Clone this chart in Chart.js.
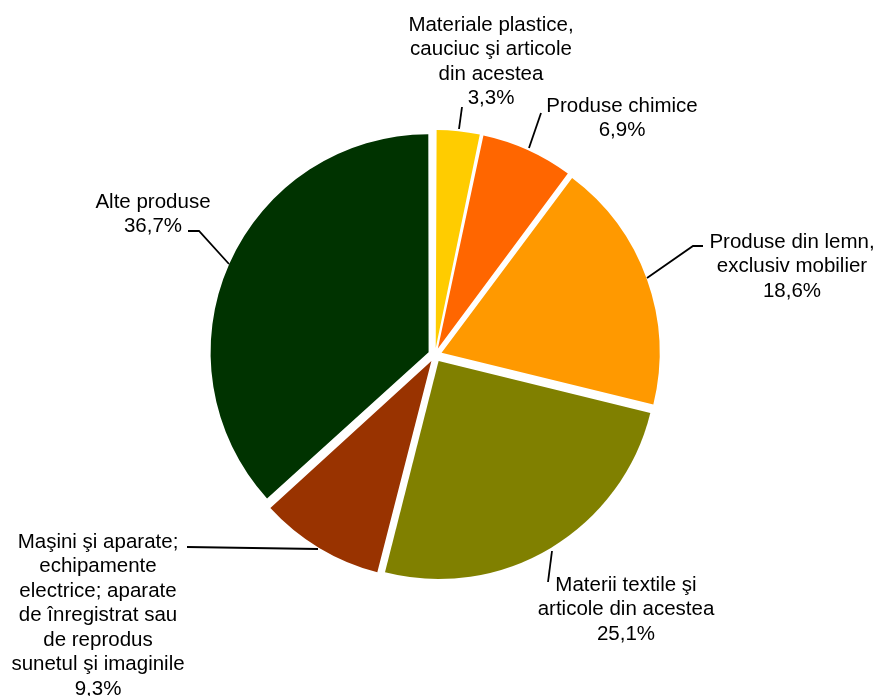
<!DOCTYPE html>
<html>
<head>
<meta charset="utf-8">
<script src="https://cdn.jsdelivr.net/npm/chart.js@4/dist/chart.umd.min.js"></script>
<style>
  html, body { margin: 0; padding: 0; background: #fff; }
  #chart { display: block; }
</style>
</head>
<body>
<canvas id="chart" width="879" height="696"></canvas>
<script>
// categories, clockwise from 12 o'clock (each entry = wrapped label lines)
const categories = [
  ['Materiale plastice,', 'cauciuc şi articole', 'din acestea'],
  ['Produse chimice'],
  ['Produse din lemn,', 'exclusiv mobilier'],
  ['Materii textile şi', 'articole din acestea'],
  ['Maşini şi aparate;', 'echipamente', 'electrice; aparate', 'de înregistrat sau', 'de reprodus', 'sunetul şi imaginile'],
  ['Alte produse'],
];
const shares = [3.3, 6.9, 18.6, 25.1, 9.3, 36.7];
const sliceColors = ['#ffcc00', '#ff6600', '#ff9900', '#808000', '#993300', '#003300'];

// label placement: text centre x, first line y, leader polyline
const labelLayout = [
  { x: 491, y: 25, leader: [[462, 107], [459, 129]] },
  { x: 622, y: 106, leader: [[541, 113], [529, 148]] },
  { x: 792, y: 242, leader: [[703, 246], [693, 246], [647, 278]] },
  { x: 626, y: 585, leader: [[548, 582], [552, 551]] },
  { x: 98, y: 542, leader: [[187, 547], [318, 549]] },
  { x: 153, y: 202, leader: [[188, 231], [199, 231], [229, 264]] },
];

const PIE_RADIUS = 218;
const EXPLODE = 28; // chart.js shifts by offset / 4
const LINE_H = 24.5;
const FONT = '20.5px "Liberation Sans", Arial, sans-serif';

function fmtPct(v) {
  return v.toFixed(1).replace('.', ',') + '%';
}

// chart.js grows small exploded slices a little; undo that so all share one radius
const keepRadius = {
  id: 'keepRadius',
  beforeDatasetsDraw(chart) {
    const meta = chart.getDatasetMeta(0);
    meta.data.forEach((arc) => {
      const fix = 1 - Math.sin(Math.min(Math.PI, arc.circumference));
      arc.outerRadius = PIE_RADIUS - (EXPLODE / 4) * fix;
    });
  },
};

const sliceLabels = {
  id: 'sliceLabels',
  afterDraw(chart) {
    const ctx = chart.ctx;
    ctx.save();
    ctx.strokeStyle = '#000';
    ctx.lineWidth = 1.8;
    labelLayout.forEach((lay) => {
      ctx.beginPath();
      lay.leader.forEach((p, i) => (i ? ctx.lineTo(p[0], p[1]) : ctx.moveTo(p[0], p[1])));
      ctx.stroke();
    });
    ctx.fillStyle = '#000';
    ctx.font = FONT;
    ctx.textAlign = 'center';
    ctx.textBaseline = 'middle';
    categories.forEach((lines, i) => {
      const lay = labelLayout[i];
      lines.concat([fmtPct(shares[i])]).forEach((txt, j) => {
        ctx.fillText(txt, lay.x, lay.y + j * LINE_H);
      });
    });
    ctx.restore();
  },
};

new Chart(document.getElementById('chart').getContext('2d'), {
  type: 'pie',
  data: {
    labels: categories.map((c) => c.join(' ')),
    datasets: [{
      data: shares,
      backgroundColor: sliceColors,
      borderWidth: 0,
      offset: EXPLODE,
    }],
  },
  options: {
    responsive: false,
    animation: false,
    radius: PIE_RADIUS,
    layout: { padding: { left: 0, right: 9, top: 14, bottom: 0 } },
    plugins: {
      legend: { display: false },
      tooltip: { enabled: false },
    },
    events: [],
  },
  plugins: [keepRadius, sliceLabels],
});
</script>
</body>
</html>
